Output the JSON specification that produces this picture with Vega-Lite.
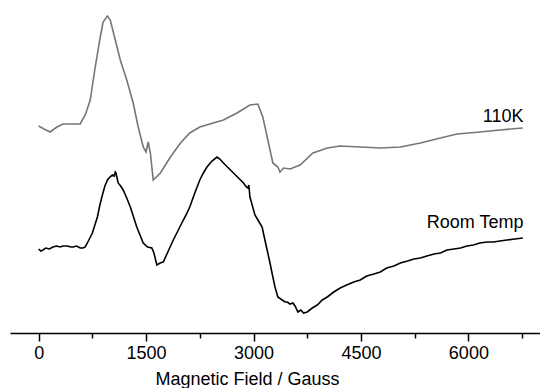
{
  "$schema": "https://vega.github.io/schema/vega-lite/v6.json",
  "width": 530,
  "height": 333,
  "autosize": {"type": "none"},
  "padding": {"left": 10, "top": 0, "right": 0, "bottom": 55},
  "background": "white",
  "config": {
    "view": {"stroke": null},
    "font": "Liberation Sans"
  },
  "datasets": {
    "spectra": [
      {"field": 0, "signal": 207, "series": "110K"},
      {"field": 75, "signal": 204, "series": "110K"},
      {"field": 160, "signal": 201, "series": "110K"},
      {"field": 255, "signal": 206, "series": "110K"},
      {"field": 340, "signal": 209, "series": "110K"},
      {"field": 580, "signal": 209, "series": "110K"},
      {"field": 650, "signal": 218, "series": "110K"},
      {"field": 720, "signal": 233, "series": "110K"},
      {"field": 790, "signal": 266, "series": "110K"},
      {"field": 860, "signal": 296, "series": "110K"},
      {"field": 900, "signal": 311, "series": "110K"},
      {"field": 960, "signal": 317, "series": "110K"},
      {"field": 1000, "signal": 313, "series": "110K"},
      {"field": 1070, "signal": 293, "series": "110K"},
      {"field": 1140, "signal": 273, "series": "110K"},
      {"field": 1230, "signal": 253, "series": "110K"},
      {"field": 1320, "signal": 230, "series": "110K"},
      {"field": 1390, "signal": 206, "series": "110K"},
      {"field": 1460, "signal": 186, "series": "110K"},
      {"field": 1500, "signal": 181, "series": "110K"},
      {"field": 1530, "signal": 191, "series": "110K"},
      {"field": 1560, "signal": 180, "series": "110K"},
      {"field": 1600, "signal": 153, "series": "110K"},
      {"field": 1700, "signal": 160, "series": "110K"},
      {"field": 1840, "signal": 176, "series": "110K"},
      {"field": 1980, "signal": 190, "series": "110K"},
      {"field": 2110, "signal": 200, "series": "110K"},
      {"field": 2250, "signal": 206, "series": "110K"},
      {"field": 2390, "signal": 209, "series": "110K"},
      {"field": 2580, "signal": 213, "series": "110K"},
      {"field": 2770, "signal": 220, "series": "110K"},
      {"field": 2950, "signal": 228, "series": "110K"},
      {"field": 3060, "signal": 229, "series": "110K"},
      {"field": 3130, "signal": 216, "series": "110K"},
      {"field": 3200, "signal": 193, "series": "110K"},
      {"field": 3270, "signal": 170, "series": "110K"},
      {"field": 3340, "signal": 166, "series": "110K"},
      {"field": 3370, "signal": 161, "series": "110K"},
      {"field": 3420, "signal": 165, "series": "110K"},
      {"field": 3510, "signal": 164, "series": "110K"},
      {"field": 3650, "signal": 168, "series": "110K"},
      {"field": 3830, "signal": 180, "series": "110K"},
      {"field": 4030, "signal": 185, "series": "110K"},
      {"field": 4210, "signal": 187, "series": "110K"},
      {"field": 4490, "signal": 186, "series": "110K"},
      {"field": 4770, "signal": 185, "series": "110K"},
      {"field": 5050, "signal": 186, "series": "110K"},
      {"field": 5330, "signal": 190, "series": "110K"},
      {"field": 5610, "signal": 195, "series": "110K"},
      {"field": 5840, "signal": 199, "series": "110K"},
      {"field": 6160, "signal": 201, "series": "110K"},
      {"field": 6440, "signal": 203, "series": "110K"},
      {"field": 6760, "signal": 205, "series": "110K"},

      {"field": 0, "signal": 84, "series": "Room Temp"},
      {"field": 30, "signal": 82, "series": "Room Temp"},
      {"field": 60, "signal": 83, "series": "Room Temp"},
      {"field": 100, "signal": 85, "series": "Room Temp"},
      {"field": 150, "signal": 84, "series": "Room Temp"},
      {"field": 200, "signal": 86, "series": "Room Temp"},
      {"field": 250, "signal": 87, "series": "Room Temp"},
      {"field": 300, "signal": 86, "series": "Room Temp"},
      {"field": 340, "signal": 87, "series": "Room Temp"},
      {"field": 400, "signal": 87, "series": "Room Temp"},
      {"field": 450, "signal": 86, "series": "Room Temp"},
      {"field": 480, "signal": 86, "series": "Room Temp"},
      {"field": 530, "signal": 87, "series": "Room Temp"},
      {"field": 580, "signal": 85, "series": "Room Temp"},
      {"field": 620, "signal": 85, "series": "Room Temp"},
      {"field": 650, "signal": 86, "series": "Room Temp"},
      {"field": 680, "signal": 90, "series": "Room Temp"},
      {"field": 715, "signal": 95, "series": "Room Temp"},
      {"field": 750, "signal": 100, "series": "Room Temp"},
      {"field": 785, "signal": 108, "series": "Room Temp"},
      {"field": 820, "signal": 116, "series": "Room Temp"},
      {"field": 855, "signal": 128, "series": "Room Temp"},
      {"field": 890, "signal": 138, "series": "Room Temp"},
      {"field": 925, "signal": 147, "series": "Room Temp"},
      {"field": 960, "signal": 153, "series": "Room Temp"},
      {"field": 995, "signal": 156, "series": "Room Temp"},
      {"field": 1030, "signal": 158, "series": "Room Temp"},
      {"field": 1055, "signal": 157, "series": "Room Temp"},
      {"field": 1070, "signal": 161, "series": "Room Temp"},
      {"field": 1080, "signal": 160, "series": "Room Temp"},
      {"field": 1095, "signal": 155, "series": "Room Temp"},
      {"field": 1110, "signal": 150, "series": "Room Temp"},
      {"field": 1145, "signal": 147, "series": "Room Temp"},
      {"field": 1180, "signal": 143, "series": "Room Temp"},
      {"field": 1230, "signal": 135, "series": "Room Temp"},
      {"field": 1280, "signal": 126, "series": "Room Temp"},
      {"field": 1325, "signal": 116, "series": "Room Temp"},
      {"field": 1370, "signal": 106, "series": "Room Temp"},
      {"field": 1415, "signal": 98, "series": "Room Temp"},
      {"field": 1460, "signal": 90, "series": "Room Temp"},
      {"field": 1520, "signal": 86, "series": "Room Temp"},
      {"field": 1580, "signal": 85, "series": "Room Temp"},
      {"field": 1610, "signal": 80, "series": "Room Temp"},
      {"field": 1650, "signal": 68, "series": "Room Temp"},
      {"field": 1695, "signal": 70, "series": "Room Temp"},
      {"field": 1740, "signal": 71, "series": "Room Temp"},
      {"field": 1810, "signal": 82, "series": "Room Temp"},
      {"field": 1880, "signal": 93, "series": "Room Temp"},
      {"field": 1950, "signal": 103, "series": "Room Temp"},
      {"field": 2020, "signal": 113, "series": "Room Temp"},
      {"field": 2065, "signal": 119, "series": "Room Temp"},
      {"field": 2110, "signal": 126, "series": "Room Temp"},
      {"field": 2180, "signal": 140, "series": "Room Temp"},
      {"field": 2250, "signal": 153, "series": "Room Temp"},
      {"field": 2300, "signal": 160, "series": "Room Temp"},
      {"field": 2350, "signal": 166, "series": "Room Temp"},
      {"field": 2420, "signal": 172, "series": "Room Temp"},
      {"field": 2490, "signal": 176, "series": "Room Temp"},
      {"field": 2530, "signal": 174, "series": "Room Temp"},
      {"field": 2580, "signal": 170, "series": "Room Temp"},
      {"field": 2650, "signal": 165, "series": "Room Temp"},
      {"field": 2720, "signal": 160, "series": "Room Temp"},
      {"field": 2790, "signal": 155, "series": "Room Temp"},
      {"field": 2860, "signal": 150, "series": "Room Temp"},
      {"field": 2900, "signal": 146, "series": "Room Temp"},
      {"field": 2920, "signal": 145, "series": "Room Temp"},
      {"field": 2935, "signal": 148, "series": "Room Temp"},
      {"field": 2950, "signal": 136, "series": "Room Temp"},
      {"field": 2985, "signal": 127, "series": "Room Temp"},
      {"field": 3020, "signal": 118, "series": "Room Temp"},
      {"field": 3070, "signal": 112, "series": "Room Temp"},
      {"field": 3120, "signal": 106, "series": "Room Temp"},
      {"field": 3150, "signal": 96, "series": "Room Temp"},
      {"field": 3190, "signal": 83, "series": "Room Temp"},
      {"field": 3230, "signal": 70, "series": "Room Temp"},
      {"field": 3270, "signal": 56, "series": "Room Temp"},
      {"field": 3300, "signal": 46, "series": "Room Temp"},
      {"field": 3340, "signal": 36, "series": "Room Temp"},
      {"field": 3400, "signal": 33, "series": "Room Temp"},
      {"field": 3440, "signal": 31, "series": "Room Temp"},
      {"field": 3470, "signal": 31, "series": "Room Temp"},
      {"field": 3510, "signal": 29, "series": "Room Temp"},
      {"field": 3550, "signal": 30, "series": "Room Temp"},
      {"field": 3580, "signal": 27, "series": "Room Temp"},
      {"field": 3620, "signal": 21, "series": "Room Temp"},
      {"field": 3660, "signal": 23, "series": "Room Temp"},
      {"field": 3700, "signal": 20, "series": "Room Temp"},
      {"field": 3750, "signal": 21, "series": "Room Temp"},
      {"field": 3820, "signal": 25, "series": "Room Temp"},
      {"field": 3890, "signal": 28, "series": "Room Temp"},
      {"field": 3960, "signal": 33, "series": "Room Temp"},
      {"field": 4030, "signal": 36, "series": "Room Temp"},
      {"field": 4120, "signal": 41, "series": "Room Temp"},
      {"field": 4210, "signal": 45, "series": "Room Temp"},
      {"field": 4300, "signal": 48, "series": "Room Temp"},
      {"field": 4400, "signal": 51, "series": "Room Temp"},
      {"field": 4490, "signal": 53, "series": "Room Temp"},
      {"field": 4580, "signal": 57, "series": "Room Temp"},
      {"field": 4680, "signal": 59, "series": "Room Temp"},
      {"field": 4770, "signal": 61, "series": "Room Temp"},
      {"field": 4860, "signal": 65, "series": "Room Temp"},
      {"field": 4960, "signal": 67, "series": "Room Temp"},
      {"field": 5050, "signal": 70, "series": "Room Temp"},
      {"field": 5150, "signal": 72, "series": "Room Temp"},
      {"field": 5240, "signal": 74, "series": "Room Temp"},
      {"field": 5330, "signal": 75, "series": "Room Temp"},
      {"field": 5420, "signal": 77, "series": "Room Temp"},
      {"field": 5520, "signal": 79, "series": "Room Temp"},
      {"field": 5610, "signal": 80, "series": "Room Temp"},
      {"field": 5700, "signal": 83, "series": "Room Temp"},
      {"field": 5800, "signal": 84, "series": "Room Temp"},
      {"field": 5890, "signal": 85, "series": "Room Temp"},
      {"field": 5980, "signal": 87, "series": "Room Temp"},
      {"field": 6070, "signal": 88, "series": "Room Temp"},
      {"field": 6160, "signal": 90, "series": "Room Temp"},
      {"field": 6260, "signal": 91, "series": "Room Temp"},
      {"field": 6350, "signal": 91, "series": "Room Temp"},
      {"field": 6440, "signal": 92, "series": "Room Temp"},
      {"field": 6540, "signal": 93, "series": "Room Temp"},
      {"field": 6650, "signal": 94, "series": "Room Temp"},
      {"field": 6760, "signal": 95, "series": "Room Temp"}
    ],
    "labels": [
      {"field": 6770, "signal": 211, "text": "110K"},
      {"field": 6770, "signal": 105, "text": "Room Temp"}
    ]
  },
  "resolve": {"axis": {"x": "independent"}},
  "layer": [
    {
      "data": {"name": "spectra"},
      "mark": {"type": "line", "strokeWidth": 1.6, "interpolate": "linear"},
      "encoding": {
        "x": {
          "field": "field",
          "type": "quantitative",
          "scale": {"domain": [-400, 7000], "nice": false, "zero": false},
          "axis": {
            "orient": "bottom",
            "values": [0, 1500, 3000, 4500, 6000],
            "format": "d",
            "grid": false,
            "domainColor": "black",
            "domainWidth": 1.5,
            "tickColor": "black",
            "tickWidth": 1.5,
            "tickSize": 8,
            "labelPadding": 3,
            "labelFontSize": 18,
            "labelFont": "Liberation Sans",
            "labelColor": "black",
            "labelFlush": false,
            "title": "Magnetic Field / Gauss",
            "titleFont": "Liberation Sans",
            "titleFontSize": 18,
            "titleFontWeight": "normal",
            "titleColor": "black",
            "titleX": 237,
            "titleY": 51,
            "titleAlign": "center",
            "titleBaseline": "alphabetic",
            "titleAnchor": null
          }
        },
        "y": {
          "field": "signal",
          "type": "quantitative",
          "scale": {"domain": [0, 333], "nice": false, "zero": false},
          "axis": null
        },
        "color": {
          "field": "series",
          "type": "nominal",
          "scale": {"domain": ["110K", "Room Temp"], "range": ["#767676", "#000000"]},
          "legend": null
        }
      }
    },
    {
      "data": {"name": "labels"},
      "mark": {"type": "text", "align": "right", "baseline": "alphabetic", "fontSize": 18, "font": "Liberation Sans", "color": "black"},
      "encoding": {
        "x": {
          "field": "field",
          "type": "quantitative",
          "axis": {
            "orient": "bottom",
            "values": [750, 2250, 3750, 5250, 6750],
            "labels": false,
            "domain": false,
            "grid": false,
            "tickColor": "black",
            "tickWidth": 1.5,
            "tickSize": 5,
            "title": null
          }
        },
        "y": {"field": "signal", "type": "quantitative"},
        "text": {"field": "text"}
      }
    }
  ]
}
